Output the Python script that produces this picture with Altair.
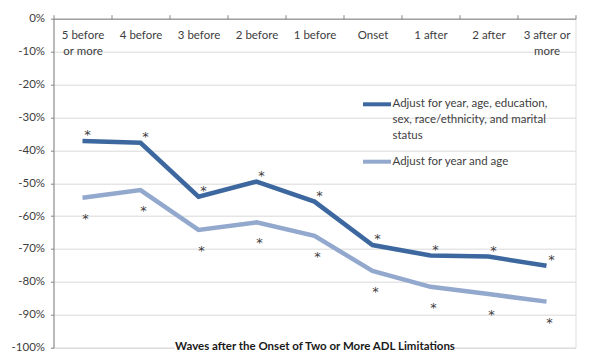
import altair as alt
import pandas as pd

categories = ["5 before or more", "4 before", "3 before", "2 before", "1 before",
              "Onset", "1 after", "2 after", "3 after or more"]
full_adjust = [-37.2, -37.7, -54.1, -49.5, -55.6, -68.8, -72.0, -72.3, -75.1]
year_age = [-54.4, -52.1, -64.2, -61.9, -66.0, -76.7, -81.5, -83.7, -86.0]
series_names = ["Adjust for year, age, education, sex, race/ethnicity, and marital status",
                "Adjust for year and age"]
colors = ["#3d689f", "#93a8cd"]
x_title = "Waves after the Onset of Two or More ADL Limitations"

W, H = 522, 329
FONT = "Lato"
TXT = "#404040"

rows = []
for c, v in zip(categories, full_adjust):
    rows.append({"cat": c, "val": v, "series": series_names[0], "star": "*"})
for c, v in zip(categories, year_age):
    rows.append({"cat": c, "val": v, "series": series_names[1], "star": "*"})
df = pd.DataFrame(rows)

xenc = alt.X("cat:N", sort=categories, bandPosition=0.5,
             scale=alt.Scale(type="band", paddingInner=0, paddingOuter=0),
             axis=alt.Axis(orient="top", title=None, grid=False, tickBand="extent",
                           tickSize=4, tickColor="#868686", domainColor="#868686",
                           labelPadding=-14.5, labelBaseline="top", labelAngle=0,
                           labelFont=FONT, labelFontSize=11.5, labelColor=TXT,
                           labelLineHeight=16, labelAlign="center",
                           labelExpr="datum.value == '5 before or more' ? ['5 before', 'or more'] : "
                                     "datum.value == '3 after or more' ? ['3 after or', 'more'] : datum.value"))
yenc = alt.Y("val:Q", scale=alt.Scale(domain=[-100, 0], nice=False, zero=False),
             axis=alt.Axis(title=None, values=list(range(-100, 1, 10)), grid=True,
                           gridColor="#d9d9d9", domainColor="#868686", tickColor="#868686",
                           tickSize=3, labelPadding=6, labelFont=FONT, labelFontSize=11.5,
                           labelColor=TXT, labelOverlap=False, tickCount=11,
                           labelExpr="(datum.value < 0 ? '-' : '') + abs(datum.value) + '%'"))
color = alt.Color("series:N", scale=alt.Scale(domain=series_names, range=colors), legend=None)

lines = alt.Chart(df).mark_line(strokeWidth=4.5).encode(x=xenc, y=yenc, color=color)

stars_dark = alt.Chart(df[df.series == series_names[0]]).mark_text(
    font="DejaVu Sans", fontSize=13, color=TXT, dx=5, dy=-6).encode(
    x=xenc, y=yenc, text="star:N")
stars_light = alt.Chart(df[df.series == series_names[1]]).mark_text(
    font="DejaVu Sans", fontSize=13, color=TXT, dx=3, dy=21).encode(
    x=xenc, y=yenc, text="star:N")

one = pd.DataFrame({"k": [0]})
title_bg = alt.Chart(one).mark_rect(color="white").encode(
    x=alt.value(W / 2 - 140), x2=alt.value(W / 2 + 140),
    y=alt.value(H - 7), y2=alt.value(H + 6))
title = alt.Chart(one).mark_text(font=FONT, fontSize=11.5, fontWeight="bold",
                                 color="#1a1a1a", baseline="middle").encode(
    x=alt.value(W / 2 + 0.5), y=alt.value(H - 1), text=alt.value(x_title))

leg1_line = alt.Chart(one).mark_rule(strokeWidth=4, color=colors[0]).encode(
    x=alt.value(309.5), x2=alt.value(337.5), y=alt.value(85.6))
leg2_line = alt.Chart(one).mark_rule(strokeWidth=4, color=colors[1]).encode(
    x=alt.value(309.5), x2=alt.value(337.5), y=alt.value(143))
leg1_text = alt.Chart(one).mark_text(font=FONT, fontSize=11.5, color=TXT, align="left",
                                     baseline="middle", lineHeight=16).encode(
    x=alt.value(339), y=alt.value(85.6),
    text=alt.value(["Adjust for year, age, education,",
                    "sex, race/ethnicity, and marital", "status"]))
leg2_text = alt.Chart(one).mark_text(font=FONT, fontSize=11.5, color=TXT, align="left",
                                     baseline="middle").encode(
    x=alt.value(339), y=alt.value(143), text=alt.value(series_names[1]))

chart = alt.layer(lines, stars_dark, stars_light, title_bg, title,
                  leg1_line, leg2_line, leg1_text, leg2_text).properties(
    width=W, height=H,
    autosize=alt.AutoSizeParams(type="none"),
    padding={"left": 45.5, "top": 10.7, "right": 5, "bottom": 10},
).configure_view(stroke=None).configure(background="white")

chart.save("out.html", embed_options={"renderer": "svg", "actions": False})
